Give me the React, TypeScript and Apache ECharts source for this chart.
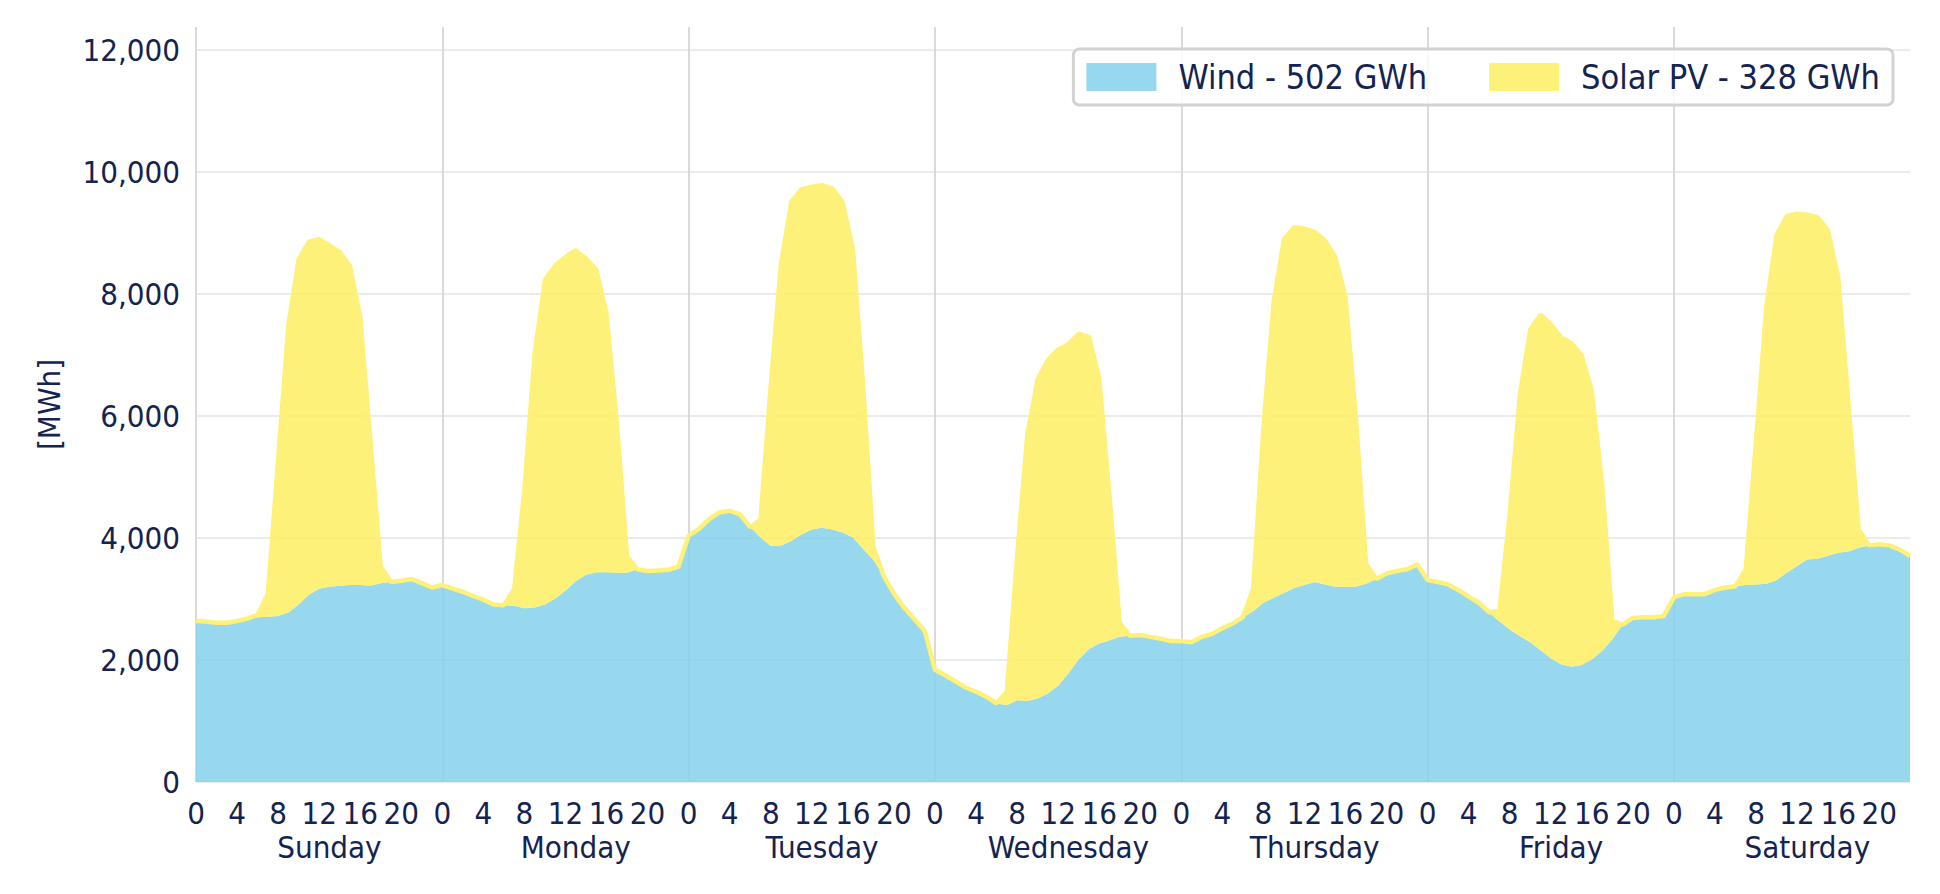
import React, { useEffect, useRef } from 'react';
import * as echarts from 'echarts';

// weekday names and hour tick labels
const days = ['Sunday', 'Monday', 'Tuesday', 'Wednesday', 'Thursday', 'Friday', 'Saturday'];
const hours = [
  '0', '1', '2', '3', '4', '5', '6', '7', '8', '9', '10', '11',
  '12', '13', '14', '15', '16', '17', '18', '19', '20', '21', '22', '23'
];

// wind generation per hour [MWh]
const windSun = [2640, 2630, 2610, 2610, 2640, 2680, 2700, 2710, 2720, 2780, 2910, 3070, 3170, 3200, 3220, 3230, 3230, 3220, 3260, 3280, 3300, 3330, 3260, 3190];
const windMon = [3230, 3170, 3120, 3050, 2990, 2910, 2900, 2890, 2850, 2860, 2910, 3010, 3140, 3290, 3400, 3440, 3440, 3430, 3430, 3490, 3460, 3470, 3480, 3530];
const windTue = [4040, 4150, 4310, 4420, 4450, 4390, 4180, 4010, 3870, 3880, 3950, 4060, 4140, 4170, 4140, 4090, 4010, 3820, 3640, 3380, 3090, 2860, 2670, 2480];
const windWed = [1840, 1750, 1650, 1550, 1480, 1400, 1290, 1260, 1340, 1330, 1370, 1450, 1580, 1780, 2010, 2180, 2270, 2320, 2380, 2400, 2410, 2380, 2350, 2310];
const windThu = [2310, 2290, 2380, 2430, 2520, 2600, 2700, 2800, 2940, 3020, 3100, 3180, 3230, 3280, 3240, 3200, 3200, 3200, 3250, 3330, 3420, 3460, 3490, 3570];
const windFri = [3310, 3280, 3240, 3150, 3040, 2940, 2780, 2630, 2500, 2390, 2290, 2160, 2030, 1930, 1890, 1920, 2010, 2150, 2340, 2580, 2690, 2700, 2700, 2720];
const windSat = [3030, 3080, 3080, 3080, 3150, 3190, 3210, 3230, 3240, 3250, 3310, 3430, 3540, 3650, 3660, 3710, 3760, 3780, 3840, 3880, 3900, 3880, 3810, 3710];

// solar PV generation per hour [MWh]
const solarSun = [0, 0, 0, 0, 0, 0, 40, 370, 2560, 4710, 5660, 5790, 5730, 5600, 5470, 5230, 4400, 2360, 270, 0, 0, 0, 0, 0];
const solarMon = [0, 0, 0, 0, 0, 0, 0, 270, 1950, 4170, 5320, 5460, 5470, 5430, 5180, 4960, 4240, 2470, 270, 0, 0, 0, 0, 0];
const solarTue = [0, 0, 0, 0, 0, 0, 0, 290, 2630, 4620, 5560, 5660, 5620, 5615, 5590, 5420, 4740, 2680, 220, 0, 0, 0, 0, 0];
const solarWed = [0, 0, 0, 0, 0, 0, 0, 220, 2360, 4370, 5230, 5470, 5510, 5400, 5340, 5120, 4360, 2380, 230, 0, 0, 0, 0, 0];
const solarThu = [0, 0, 0, 0, 0, 0, 0, 360, 2860, 4850, 5800, 5915, 5845, 5740, 5640, 5410, 4750, 2800, 330, 0, 0, 0, 0, 0];
const solarFri = [0, 0, 0, 0, 0, 0, 0, 180, 1900, 3980, 5130, 5500, 5480, 5360, 5310, 5080, 4410, 2750, 300, 0, 0, 0, 0, 0];
const solarSat = [0, 0, 0, 0, 0, 0, 0, 260, 2360, 4540, 5660, 5850, 5780, 5650, 5600, 5340, 4520, 2430, 300, 0, 0, 0, 0, 0];

const wind = [...windSun, ...windMon, ...windTue, ...windWed, ...windThu, ...windFri, ...windSat];
const solar = [...solarSun, ...solarMon, ...solarTue, ...solarWed, ...solarThu, ...solarFri, ...solarSat];

const categories = days.flatMap((d) => hours.map((h) => d + ' ' + h));

const FONT = '"DejaVu Sans Condensed", "DejaVu Sans", sans-serif';
const TEXT = '#14234f';

const App: React.FC = () => {
  const chartRef = useRef<HTMLDivElement>(null);

  useEffect(() => {
    if (!chartRef.current) return;
    const chart = echarts.init(chartRef.current, undefined, { renderer: 'svg' });

    chart.setOption({
      animation: false,
      backgroundColor: '#ffffff',
      textStyle: { fontFamily: FONT },
      grid: { left: 196, right: 30, top: 27, bottom: 112 },
      legend: {
        top: 49,
        right: 47,
        icon: 'rect',
        itemWidth: 70,
        itemHeight: 28,
        itemGap: 62,
        padding: [10, 13, 10, 13],
        backgroundColor: 'rgba(255,255,255,0.8)',
        borderColor: '#d2d2d2',
        borderWidth: 3,
        borderRadius: 6,
        textStyle: { fontFamily: FONT, fontSize: 34, color: TEXT, lineHeight: 36, padding: [0, 0, 0, 17] },
        data: [
          { name: 'Wind - 502 GWh', itemStyle: { color: '#98d8ee' } },
          { name: 'Solar PV - 328 GWh', itemStyle: { color: '#fdf17a' } }
        ]
      },
      xAxis: [
        {
          type: 'category',
          data: categories,
          boundaryGap: false,
          axisLine: { show: false },
          axisTick: { show: false },
          axisLabel: {
            interval: (i: number) => i % 4 === 0,
            formatter: (_v: string, i: number) => hours[i % 24],
            color: TEXT,
            fontFamily: FONT,
            fontSize: 31,
            margin: 15
          },
          splitLine: {
            show: true,
            interval: (i: number) => i % 24 === 0,
            lineStyle: { color: '#dadada', width: 2 }
          }
        },
        {
          type: 'category',
          data: categories,
          boundaryGap: false,
          position: 'bottom',
          offset: 34,
          axisLine: { show: false },
          axisTick: { show: false },
          splitLine: { show: false },
          axisLabel: {
            interval: (i: number) => i % 24 === 13,
            formatter: (_v: string, i: number) => days[Math.floor(i / 24)],
            color: TEXT,
            fontFamily: FONT,
            fontSize: 31,
            margin: 15
          }
        }
      ],
      yAxis: {
        type: 'value',
        min: 0,
        max: 12380,
        interval: 2000,
        name: '[MWh]',
        nameLocation: 'middle',
        nameGap: 132,
        nameTextStyle: { color: TEXT, fontFamily: FONT, fontSize: 31 },
        axisLine: { show: false },
        axisTick: { show: false },
        axisLabel: {
          color: TEXT,
          fontFamily: FONT,
          fontSize: 31,
          margin: 16,
          showMaxLabel: false,
          formatter: (v: number) => v.toLocaleString('en-US')
        },
        splitLine: { show: true, showMaxLine: false, lineStyle: { color: '#ebebeb', width: 2 } }
      },
      series: [
        {
          name: 'Wind - 502 GWh',
          type: 'line',
          stack: 'total',
          data: wind,
          symbol: 'none',
          itemStyle: { color: '#98d8ee' },
          lineStyle: { width: 0 },
          areaStyle: { color: 'rgb(134,209,235)', opacity: 0.85 }
        },
        {
          name: 'Solar PV - 328 GWh',
          type: 'line',
          stack: 'total',
          data: solar,
          symbol: 'none',
          itemStyle: { color: '#fdf17a' },
          lineStyle: { width: 4.5, color: '#fdf17a' },
          areaStyle: { color: 'rgb(253,239,99)', opacity: 0.85 }
        }
      ]
    });

    return () => {
      chart.dispose();
    };
  }, []);

  return (
    <div
      ref={chartRef}
      style={{ position: 'fixed', left: 0, top: 0, width: 1940, height: 894 }}
    />
  );
};

export default App;
